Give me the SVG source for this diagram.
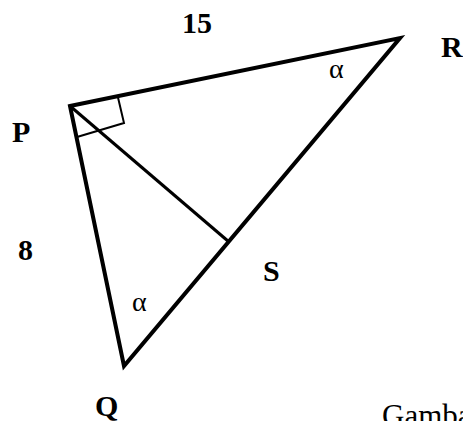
<svg xmlns="http://www.w3.org/2000/svg" width="463" height="421" viewBox="0 0 463 421">
<style>
.edge{fill:none;stroke:#000;stroke-linejoin:miter;stroke-miterlimit:10}
.lbl{font-family:"Liberation Serif","Times New Roman",serif;font-weight:bold;font-size:30px;fill:#000}
.ang{font-family:"Liberation Serif","Times New Roman",serif;font-size:28px;fill:#000}
.note{font-family:"Liberation Serif","Times New Roman",serif;font-size:31px;fill:#000}
</style>
<rect width="463" height="421" fill="#fff"/>
<g id="connectors">
<polygon class="edge" stroke-width="4" points="70,106 400,38 124,366"/>
<line class="edge" stroke-width="3" x1="70" y1="106" x2="228.5" y2="241.5"/>
<polyline class="edge" stroke-width="2" points="118,97.5 124,123 77,137"/>
</g>
<g id="node-P"><text class="lbl" x="12" y="142">P</text></g>
<g id="node-R"><text class="lbl" x="441" y="57">R</text></g>
<g id="node-Q"><text class="lbl" x="95" y="416">Q</text></g>
<g id="node-S"><text class="lbl" x="263" y="281">S</text></g>
<g id="label-15"><text class="lbl" x="182" y="33">15</text></g>
<g id="label-8"><text class="lbl" x="18" y="260">8</text></g>
<g id="angle-R"><text class="ang" x="329" y="78">α</text></g>
<g id="angle-Q"><text class="ang" x="132" y="311">α</text></g>
<g id="note"><text class="note" x="382" y="426">Gamba</text></g>
</svg>
